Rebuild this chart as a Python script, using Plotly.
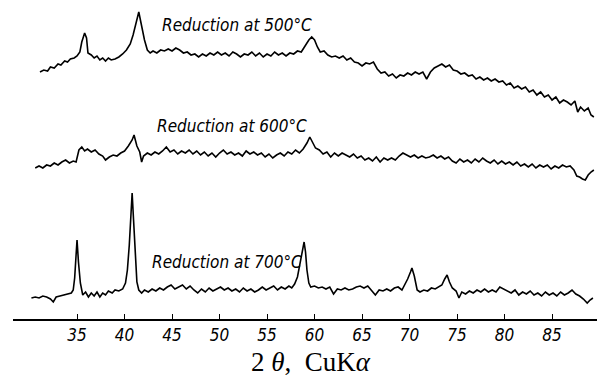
import plotly.graph_objects as go

# ---- data (2theta in degrees, intensity in arbitrary units) ----
two_theta_500 = [31.1,31.5,31.9,32.2,32.6,33.0,33.3,33.7,34.0,34.3,34.7,35.0,35.3,35.5,35.8,36.0,36.15,36.5,36.8,37.1,37.4,37.7,38.0,38.3,38.6,39.0,39.4,39.8,40.2,40.6,40.9,41.2,41.5,41.8,42.1,42.4,42.7,43.0,43.4,43.8,44.2,44.6,45.0,45.4,45.8,46.2,46.6,47.0,47.4,47.8,48.2,48.6,49.0,49.4,49.8,50.2,50.6,51.0,51.4,51.8,52.2,52.6,53.0,53.4,53.8,54.2,54.6,55.0,55.4,55.8,56.2,56.6,57.0,57.4,57.8,58.2,58.6,59.0,59.4,59.7,60.0,60.3,60.6,61.0,61.4,61.8,62.2,62.6,63.0,63.4,63.8,64.2,64.6,65.0,65.4,65.8,66.2,66.6,67.0,67.4,67.8,68.2,68.6,69.0,69.4,69.8,70.2,70.6,71.0,71.4,71.8,72.2,72.6,73.0,73.4,73.8,74.2,74.6,75.0,75.4,75.8,76.2,76.6,77.0,77.4,77.8,78.2,78.6,79.0,79.4,79.8,80.2,80.6,81.0,81.4,81.8,82.2,82.6,83.0,83.4,83.8,84.2,84.6,85.0,85.4,85.8,86.2,86.6,87.0,87.4,87.7,88.0,88.4,88.8,89.1,89.4]
intensity_500 = [52,54,53,57,56,60,59,63,62,65,66,68,72,82,91,86,71,69,66,68,64,66,63,66,64,65,67,70,74,80,89,100,112,98,84,74,71,73,71,74,73,75,73,76,74,71,72,69,70,67,70,68,71,69,72,69,71,68,72,70,67,70,69,72,68,71,67,70,68,72,69,71,68,71,70,73,72,78,84,87,84,77,72,73,69,67,68,66,68,64,66,62,61,58,61,60,62,55,51,52,48,50,46,49,48,51,49,52,50,52,45,52,56,58,60,57,59,54,53,50,51,48,49,45,47,44,46,43,45,42,43,39,41,36,38,35,37,32,34,29,32,27,29,24,27,21,24,22,19,23,12,17,13,16,9,7]

two_theta_600 = [30.6,31.0,31.4,31.8,32.2,32.6,33.0,33.4,33.8,34.2,34.6,34.9,35.2,35.5,35.8,36.1,36.5,36.9,37.3,37.7,38.0,38.4,38.8,39.2,39.6,40.0,40.4,40.8,41.0,41.3,41.6,41.8,42.0,42.4,42.8,43.2,43.6,44.0,44.4,44.8,45.2,45.6,46.0,46.4,46.8,47.2,47.6,48.0,48.4,48.8,49.2,49.6,50.0,50.4,50.8,51.2,51.6,52.0,52.4,52.8,53.2,53.6,54.0,54.4,54.8,55.2,55.6,56.0,56.4,56.8,57.2,57.6,58.0,58.4,58.8,59.2,59.5,59.8,60.1,60.5,60.9,61.3,61.7,62.1,62.5,62.9,63.3,63.7,64.1,64.5,64.9,65.3,65.7,66.1,66.5,66.9,67.3,67.7,68.1,68.5,68.9,69.3,69.7,70.1,70.5,70.9,71.3,71.7,72.1,72.5,72.9,73.3,73.7,74.1,74.5,74.9,75.3,75.7,76.1,76.5,76.9,77.3,77.7,78.1,78.5,78.9,79.3,79.7,80.1,80.5,80.9,81.3,81.7,82.1,82.5,82.9,83.3,83.7,84.1,84.5,84.9,85.3,85.7,86.1,86.5,86.9,87.3,87.6,87.9,88.2,88.5,88.8,89.1,89.4]
intensity_600 = [16,18,16,19,18,21,19,22,24,21,23,22,34,37,33,35,32,34,30,28,24,27,29,28,31,33,38,44,49,38,32,22,28,31,29,32,30,33,37,32,34,30,33,31,34,30,33,29,32,28,31,27,31,34,30,32,29,31,28,33,30,32,29,31,27,30,26,29,31,28,32,30,34,31,35,41,47,41,36,34,30,32,27,31,28,31,29,27,30,26,28,24,26,23,27,22,26,24,26,24,28,31,29,27,29,26,28,26,27,29,26,28,25,27,23,21,25,22,24,21,25,22,26,23,21,24,20,23,20,22,19,22,18,20,17,20,16,19,17,19,15,18,16,19,17,18,14,8,7,5,4,9,12,14]

two_theta_700 = [30.2,30.6,31.0,31.4,31.8,32.2,32.5,32.8,33.2,33.6,34.0,34.4,34.6,34.75,34.9,35.0,35.15,35.35,35.6,35.9,36.2,36.5,36.8,37.1,37.4,37.7,38.0,38.3,38.7,39.0,39.4,39.8,40.1,40.3,40.5,40.65,40.8,40.95,41.1,41.3,41.5,41.8,42.1,42.5,42.9,43.3,43.7,44.1,44.5,44.9,45.3,45.7,46.1,46.5,46.9,47.3,47.7,48.1,48.5,48.9,49.3,49.7,50.1,50.5,50.9,51.3,51.7,52.1,52.5,52.9,53.3,53.7,54.1,54.5,54.9,55.3,55.7,56.1,56.5,56.9,57.3,57.6,57.9,58.2,58.5,58.75,58.9,59.05,59.2,59.4,59.6,60.0,60.4,60.8,61.2,61.6,62.0,62.4,62.8,63.2,63.6,64.0,64.4,64.8,65.2,65.6,66.0,66.4,66.8,67.2,67.6,68.0,68.4,68.8,69.2,69.5,69.8,70.1,70.25,70.5,70.8,71.1,71.5,71.9,72.3,72.7,73.1,73.4,73.7,73.95,74.2,74.5,74.9,75.2,75.5,75.9,76.3,76.7,77.1,77.5,77.9,78.3,78.7,79.1,79.5,79.9,80.3,80.7,81.1,81.5,81.9,82.3,82.7,83.1,83.5,83.9,84.3,84.7,85.1,85.5,85.9,86.3,86.7,87.1,87.5,87.9,88.3,88.7,89.0,89.3]
intensity_700 = [11,12,11,13,12,10,7,12,13,14,15,16,19,31,54,69,47,26,14,17,12,16,13,17,12,16,14,18,16,19,18,20,26,39,64,94,116,89,59,27,19,16,19,17,20,18,21,19,22,24,20,22,24,20,23,19,16,20,17,21,18,20,22,19,21,18,20,17,21,18,20,17,19,22,19,21,23,19,22,20,23,21,25,32,47,61,67,57,39,26,22,23,21,22,20,22,15,20,19,21,19,20,22,23,21,23,19,14,19,18,20,18,21,22,19,24,30,37,41,33,19,17,19,18,21,20,22,24,30,34,27,21,18,11,17,15,18,16,19,17,20,17,19,17,22,20,18,16,19,14,17,15,18,14,16,13,17,14,16,13,17,14,16,19,15,13,10,6,9,11]

tick_values = [35, 40, 45, 50, 55, 60, 65, 70, 75, 80, 85]
tick_labels = [str(v) for v in tick_values]
labels = ["Reduction at 500°C", "Reduction at 600°C", "Reduction at 700°C"]

# ---- layout constants (vertical stacking offsets) ----
offsets = [195, 135, 10]
hand_font = "Liberation Sans Narrow, DejaVu Sans Condensed, Liberation Sans"

fig = go.Figure()
series = [(two_theta_500, intensity_500), (two_theta_600, intensity_600), (two_theta_700, intensity_700)]
for (xs, ys), off in zip(series, offsets):
    fig.add_trace(go.Scatter(x=xs, y=[v + off for v in ys], mode="lines",
                             line=dict(color="black", width=1.6), showlegend=False,
                             hoverinfo="skip"))

label_pos = [(43.74, 294), (43.2, 193), (42.7, 57)]
for txt, (lx, ly) in zip(labels, label_pos):
    fig.add_annotation(x=lx, y=ly, xref="x", yref="y", text="<i>" + txt + "</i>",
                       showarrow=False, xanchor="left", yanchor="middle",
                       font=dict(family=hand_font, size=17, color="black"))

fig.add_annotation(x=0.51, y=-0.135, xref="paper", yref="paper",
                   text="2 <i>θ</i>, &nbsp;CuK<i>α</i>", showarrow=False,
                   xanchor="center", yanchor="middle",
                   font=dict(family="Liberation Serif, DejaVu Serif", size=27, color="black"))

fig.update_layout(
    width=599, height=376,
    margin=dict(l=13, r=2, t=0, b=57),
    paper_bgcolor="white", plot_bgcolor="white",
)
fig.update_xaxes(range=[28.26, 89.73], showgrid=False, zeroline=False,
                 showline=True, linecolor="black", linewidth=1.5,
                 ticks="inside", ticklen=5, tickcolor="black", tickwidth=1,
                 tickvals=tick_values, ticktext=["<i>" + t + "</i>" for t in tick_labels],
                 tickfont=dict(family=hand_font, size=17, color="black"))
fig.update_yaxes(range=[0, 319], visible=False, showgrid=False, zeroline=False)

fig.write_html("out.html")
